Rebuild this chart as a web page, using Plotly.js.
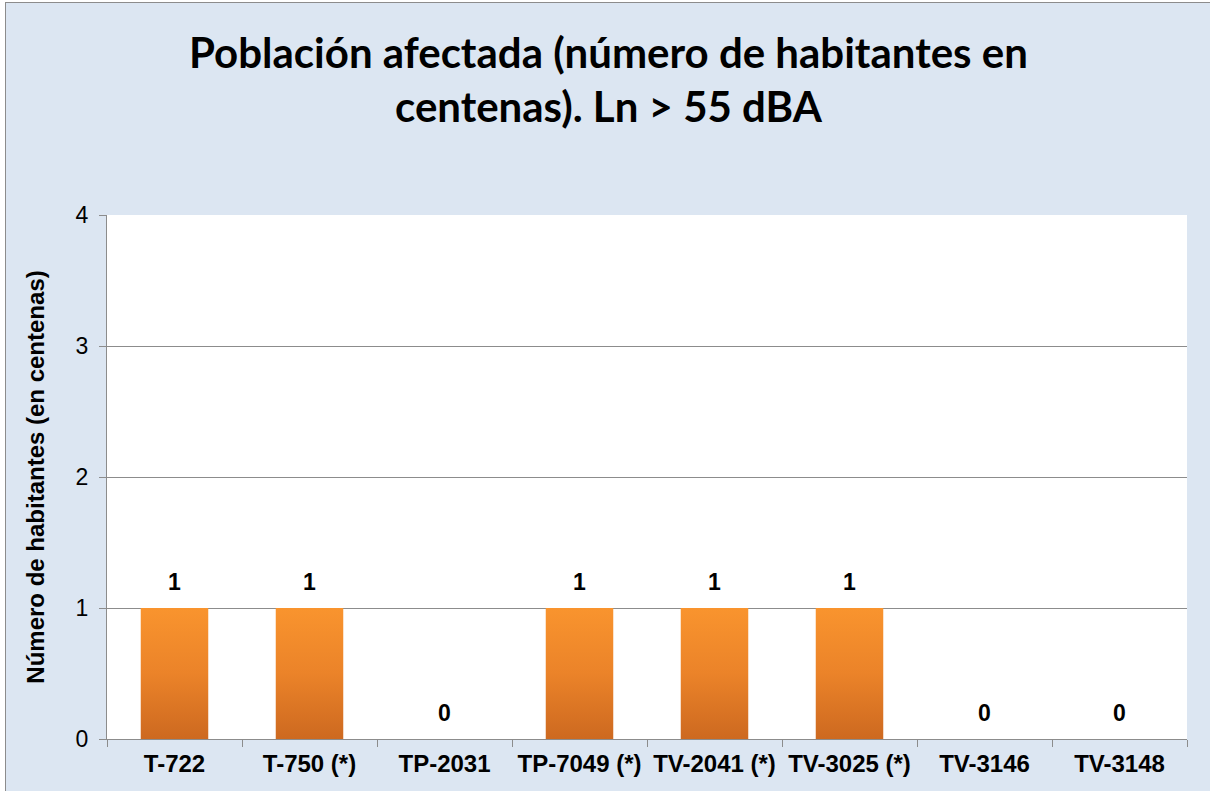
<!DOCTYPE html>
<html>
<head>
<meta charset="utf-8">
<script src="https://cdn.plot.ly/plotly-3.0.1.min.js"></script>
<style>
html, body { margin: 0; padding: 0; background: #ffffff; }
#chart { position: absolute; left: 5px; top: 2px; width: 1205px; height: 789px;
  border-left: 1px solid #8c8c8c; border-top: 1px solid #8c8c8c; }
</style>
</head>
<body>
<div id="chart"></div>
<script>
const categories = ["T-722", "T-750 (*)", "TP-2031", "TP-7049 (*)", "TV-2041 (*)", "TV-3025 (*)", "TV-3146", "TV-3148"];
const values = [1, 1, 0, 1, 1, 1, 0, 0];
const valueLabels = ["1", "1", "0", "1", "1", "1", "0", "0"];
const yTicks = [0, 1, 2, 3, 4];

const ARIAL = "Liberation Sans";

const annotations = categories.map((c, i) => ({
  x: c, y: values[i], xref: "x", yref: "y",
  text: valueLabels[i], showarrow: false,
  yanchor: "bottom", yshift: 11,
  font: { family: ARIAL, size: 23, color: "#000000", weight: "bold" }
}));

const trace = {
  type: "bar",
  x: categories,
  y: values,
  marker: { color: "#ec8428", line: { width: 0 } },
  hoverinfo: "x+y"
};

const layout = {
  width: 1205, height: 789,
  paper_bgcolor: "#dce6f2",
  plot_bgcolor: "#ffffff",
  margin: { l: 101, r: 24, t: 212, b: 53 },
  showlegend: false,
  bargap: 0.5,
  title: {
    text: "Población afectada (número de habitantes en<br>centenas). Ln > 55 dBA",
    x: 0.5, xanchor: "center", xref: "container",
    y: 0.918, yanchor: "middle",
    font: { family: "Lato", size: 42, color: "#000000", weight: "bold" }
  },
  xaxis: {
    type: "category",
    showgrid: false,
    showline: true, linecolor: "#8c8c8c", linewidth: 1,
    ticks: "outside", tickson: "boundaries", ticklen: 7, tickcolor: "#8c8c8c",
    ticklabelstandoff: 3,
    tickfont: { family: ARIAL, size: 24, color: "#000000", weight: "bold" },
    fixedrange: true
  },
  yaxis: {
    range: [0, 4],
    tickvals: yTicks,
    ticktext: yTicks.map(String),
    showgrid: true, gridcolor: "#8c8c8c", gridwidth: 1,
    zeroline: false,
    showline: true, linecolor: "#8c8c8c", linewidth: 1,
    ticks: "outside", ticklen: 7, tickcolor: "#8c8c8c",
    ticklabelstandoff: 6,
    tickfont: { family: ARIAL, size: 23, color: "#000000" },
    title: {
      text: "Número de habitantes (en centenas)",
      standoff: 24,
      font: { family: ARIAL, size: 24, color: "#000000", weight: "bold" }
    },
    automargin: false,
    fixedrange: true
  },
  annotations: annotations
};

Plotly.newPlot("chart", [trace], layout, { displayModeBar: false, staticPlot: true }).then(() => {
  const svg = document.querySelector("#chart .main-svg");
  const ns = "http://www.w3.org/2000/svg";
  let defs = svg.querySelector("defs");
  if (!defs) { defs = document.createElementNS(ns, "defs"); svg.insertBefore(defs, svg.firstChild); }
  const grad = document.createElementNS(ns, "linearGradient");
  grad.setAttribute("id", "barGrad");
  grad.setAttribute("x1", "0"); grad.setAttribute("y1", "0");
  grad.setAttribute("x2", "0"); grad.setAttribute("y2", "1");
  [["0%", "#f9942e"], ["50%", "#eb8329"], ["100%", "#cd6920"]].forEach(([o, c]) => {
    const s = document.createElementNS(ns, "stop");
    s.setAttribute("offset", o); s.setAttribute("stop-color", c);
    grad.appendChild(s);
  });
  defs.appendChild(grad);
  document.querySelectorAll("#chart .barlayer .point path").forEach(p => {
    p.style.fill = "url(#barGrad)";
  });
});
</script>
</body>
</html>
